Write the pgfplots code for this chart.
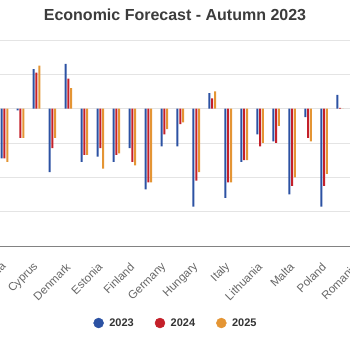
\documentclass[border=0pt]{standalone}
\usepackage{pgfplots}
\pgfplotsset{compat=1.18}
\usepackage{pgfplotstable}
\usepackage{fontspec}
\setmainfont{Liberation Sans}
\definecolor{c23}{RGB}{44,82,163}
\definecolor{c24}{RGB}{196,32,42}
\definecolor{c25}{RGB}{228,149,52}
\definecolor{gridc}{RGB}{228,228,228}
\definecolor{axc}{RGB}{130,130,130}
\definecolor{lblc}{RGB}{102,102,102}
\definecolor{titc}{RGB}{60,60,60}
\definecolor{legc}{RGB}{51,51,51}

% idx: 2 Bulgaria, 3 Croatia, 4 Cyprus, 5 Czechia, 6 Denmark, 7 EA, 8 Estonia,
% 9 EU, 10 Finland, 11 France, 12 Germany, 13 Greece, 14 Hungary, 15 Ireland,
% 16 Italy, 17 Latvia, 18 Lithuania, 19 Luxembourg, 20 Malta, 21 Netherlands,
% 22 Poland, 23 Portugal
\pgfplotstableread{
idx y23 y24 y25
2 -2.9 -2.9 -3.1
3 -0.1 -1.7 -1.7
4 2.3 2.1 2.5
5 -3.7 -2.3 -1.7
6 2.6 1.75 1.2
7 -3.1 -2.7 -2.7
8 -2.8 -2.3 -3.5
9 -3.1 -2.7 -2.6
10 -2.3 -3.1 -3.3
11 -4.7 -4.3 -4.3
12 -2.2 -1.5 -1.2
13 -2.2 -0.9 -0.8
14 -5.7 -4.2 -3.7
15 0.9 0.6 1.0
16 -5.2 -4.3 -4.3
17 -3.1 -3.0 -3.0
18 -1.5 -2.2 -2.0
19 -1.9 -2.0 -1.0
20 -5.0 -4.5 -4.0
21 -0.5 -1.7 -1.9
22 -5.7 -4.5 -3.8
23 0.8 0.05 0.0
}\budget

\begin{document}
\begin{tikzpicture}[x=1pt,y=1pt]
\useasboundingbox (0,0) rectangle (350,350);
\clip (0,0) rectangle (350,350);
\node[anchor=base, font=\bfseries\fontsize{16}{19}\selectfont, text=titc] at (175,329) {Economic Forecast - Autumn 2023};
\begin{axis}[
  at={(-27.46pt,104pt)}, anchor=south west,
  scale only axis,
  x=15.98pt, y=17.17pt,
  xmin=0, xmax=25.46, ymin=-8, ymax=4,
  bar width=2pt,
  axis x line*=bottom, axis y line*=left,
  x axis line style={-, axc, line width=0.8pt},
  y axis line style={draw=none},
  ytick={-6,-4,...,4}, yticklabels={},
  ymajorgrids, grid style={gridc, line width=0.7pt},
  ytick style={draw=none}, xtick style={draw=none},
  xtick={2,4,...,24},
  xticklabels={Bulgaria,Cyprus,Denmark,Estonia,Finland,Germany,Hungary,Italy,Lithuania,Malta,Poland,Romania},
  xticklabel style={font=\fontsize{11.5}{13}\selectfont, text=lblc, yshift=-19pt, rotate=45, anchor=east, inner sep=0pt},
  legend columns=3,
  legend style={at={(0.5,-0.3738)}, anchor=center, draw=none, fill=none,
    font=\bfseries\fontsize{11}{13}\selectfont, text=legc,
    /tikz/every odd column/.append style={column sep=3.5pt},
    /tikz/every even column/.append style={column sep=19pt}},
]
\addplot[ybar, bar shift=-2.8pt, fill=c23, draw=none, forget plot] table[x=idx, y=y23] {\budget};
\addplot[ybar, bar shift=0pt, fill=c24, draw=none, forget plot] table[x=idx, y=y24] {\budget};
\addplot[ybar, bar shift=2.8pt, fill=c25, draw=none, forget plot] table[x=idx, y=y25] {\budget};
\addlegendimage{legend image code/.code={\fill[c23] (0pt,0pt) circle (5pt);}}
\addlegendentry{2023}
\addlegendimage{legend image code/.code={\fill[c24] (0pt,0pt) circle (5pt);}}
\addlegendentry{2024}
\addlegendimage{legend image code/.code={\fill[c25] (0pt,0pt) circle (5pt);}}
\addlegendentry{2025}
\end{axis}
\end{tikzpicture}
\end{document}
